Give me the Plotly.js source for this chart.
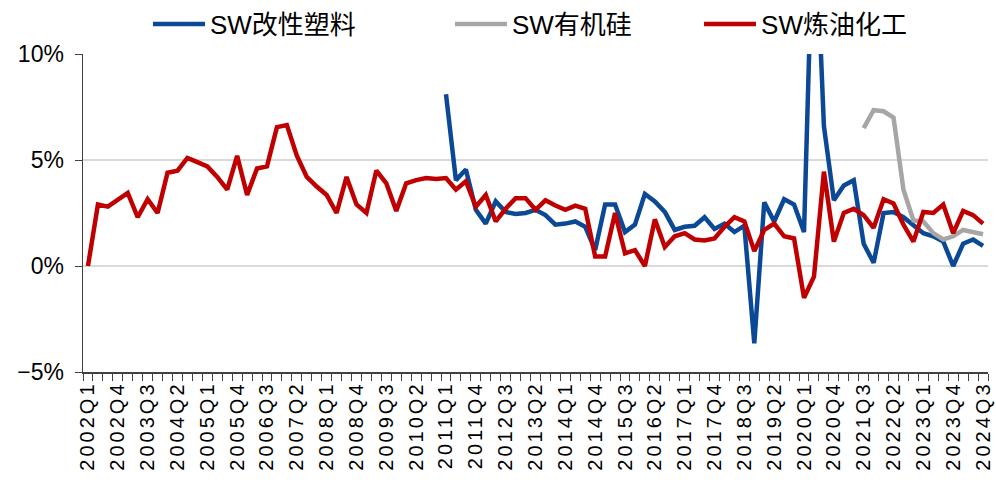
<!DOCTYPE html>
<html>
<head>
<meta charset="utf-8">
<script src="https://cdn.plot.ly/plotly-3.0.1.min.js"></script>
<style>
html, body { margin: 0; padding: 0; background: #fff; }
#chart { width: 996px; height: 487px; }
.xtick text { letter-spacing: 3px; }
</style>
</head>
<body>
<div id="chart"></div>
<script>
// Quarter categories 2002Q1 .. 2024Q3
const years = [];
for (let y = 2002; y <= 2024; y++) years.push(y);
const quarters = [];
years.forEach(y => { for (let q = 1; q <= 4; q++) { if (y === 2024 && q > 3) break; quarters.push(y + 'Q' + q); } });

// Tick labels shown every third quarter
const tickLabels = quarters.map((q, i) => (i % 3 === 0 ? q : ''));

const seriesNames = ['SW改性塑料', 'SW有机硅', 'SW炼油化工'];

// SW改性塑料 (blue), starts 2011Q1
const plastics = [
  null,null,null,null,null,null,null,null,null,null,
  null,null,null,null,null,null,null,null,null,null,
  null,null,null,null,null,null,null,null,null,null,
  null,null,null,null,null,null,
  8.1, 4.05, 4.55, 2.65, 2.0, 3.05, 2.55, 2.45, 2.5, 2.65,
  2.4, 1.95, 2.0, 2.1, 1.85, 0.75, 2.9, 2.9, 1.6, 1.95,
  3.4, 3.05, 2.55, 1.7, 1.85, 1.9, 2.3, 1.75, 2.0, 1.6,
  1.9, -3.65, 3.0, 2.1, 3.15, 2.9, 1.6, 18.0, 6.6, 3.1,
  3.8, 4.05, 1.05, 0.15, 2.5, 2.55, 2.3, 1.95, 1.55, 1.4,
  1.15, 0.0, 1.05, 1.25, 0.95
];

// SW有机硅 (grey), starts 2021Q3
const silicone = [
  null,null,null,null,null,null,null,null,null,null,
  null,null,null,null,null,null,null,null,null,null,
  null,null,null,null,null,null,null,null,null,null,
  null,null,null,null,null,null,null,null,null,null,
  null,null,null,null,null,null,null,null,null,null,
  null,null,null,null,null,null,null,null,null,null,
  null,null,null,null,null,null,null,null,null,null,
  null,null,null,null,null,null,null,null,
  6.5, 7.35, 7.3, 7.0, 3.6, 2.15, 2.1, 1.55, 1.25, 1.4,
  1.7, 1.6, 1.5
];

// SW炼油化工 (red)
const refining = [
  0.0, 2.9, 2.8, 3.15, 3.45, 2.3, 3.15, 2.5, 4.4, 4.5,
  5.1, 4.9, 4.7, 4.2, 3.6, 5.2, 3.35, 4.6, 4.7, 6.55,
  6.65, 5.2, 4.2, 3.75, 3.35, 2.5, 4.2, 2.9, 2.5, 4.5,
  3.9, 2.6, 3.9, 4.05, 4.15, 4.1, 4.15, 3.6, 4.0, 2.8,
  3.35, 2.1, 2.7, 3.2, 3.2, 2.65, 3.1, 2.85, 2.65, 2.85,
  2.7, 0.45, 0.45, 2.5, 0.6, 0.75, 0.0, 2.2, 0.9, 1.4,
  1.55, 1.25, 1.2, 1.3, 1.85, 2.3, 2.1, 0.7, 1.7, 2.0,
  1.4, 1.3, -1.5, -0.5, 4.45, 1.15, 2.5, 2.7, 2.4, 1.8,
  3.15, 2.95, 1.95, 1.15, 2.55, 2.5, 2.9, 1.55, 2.6, 2.4,
  2.0
];

const yTicks = [-5, 0, 5, 10];
const yTickText = ['\u22125%', '0%', '5%', '10%'];

const colors = ['#0b4895', '#a6a6a6', '#c00000'];
const seriesData = [plastics, silicone, refining];
const legendIds = ['legend', 'legend2', 'legend3'];

const traces = seriesData.map((d, k) => ({
  type: 'scatter', mode: 'lines',
  x: quarters, y: d, name: seriesNames[k],
  line: { color: colors[k], width: 4.5, shape: 'linear' },
  connectgaps: false,
  legend: legendIds[k],
  hoverinfo: 'skip'
}));

const legendFont = { family: '"Liberation Sans", Arial, "Noto Sans CJK SC", sans-serif', size: 26, color: '#000' };
function mkLegend(x) {
  return { orientation: 'h', x: x, xanchor: 'left', y: 1.094, yanchor: 'middle',
           font: legendFont, bgcolor: 'rgba(0,0,0,0)', borderwidth: 0, itemwidth: 52 };
}

const layout = {
  width: 996, height: 487,
  margin: { l: 83, r: 8, t: 54, b: 115, pad: 0, autoexpand: false },
  paper_bgcolor: '#ffffff', plot_bgcolor: '#ffffff',
  font: { family: '"Liberation Sans", Arial, "Noto Sans CJK SC", sans-serif', color: '#000' },
  showlegend: true,
  legend: mkLegend(0.0718),
  legend2: mkLegend(0.4055),
  legend3: mkLegend(0.6807),
  xaxis: {
    type: 'category', categoryorder: 'array', categoryarray: quarters,
    range: [-0.5, quarters.length - 0.5],
    tickmode: 'array', tickvals: quarters, ticktext: tickLabels,
    tickson: 'boundaries', ticks: 'outside', ticklen: 7, tickwidth: 1, tickcolor: '#404040',
    showline: true, linecolor: '#404040', linewidth: 1.5,
    showgrid: false, zeroline: false,
    tickangle: -90, tickfont: { size: 20, color: '#000' },
    automargin: false,
    fixedrange: true
  },
  yaxis: {
    range: [-5, 10], tickmode: 'array', tickvals: yTicks, ticktext: yTickText,
    ticks: 'outside', ticklen: 7, tickwidth: 1, tickcolor: '#404040',
    showline: true, linecolor: '#404040', linewidth: 1.5,
    showgrid: true, gridcolor: '#d9d9d9', gridwidth: 2, zeroline: false,
    tickfont: { size: 23, color: '#000' },
    ticklabelstandoff: 6,
    automargin: false,
    fixedrange: true
  }
};

Plotly.newPlot('chart', traces, layout, { staticPlot: true, displayModeBar: false });
</script>
</body>
</html>
